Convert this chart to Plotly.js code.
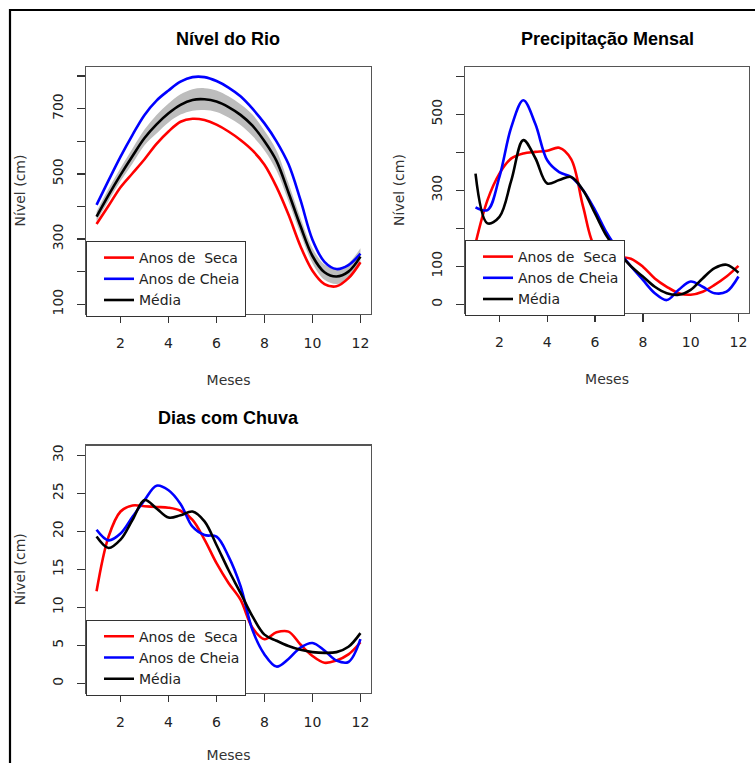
<!DOCTYPE html>
<html><head><meta charset="utf-8">
<script src="https://cdn.plot.ly/plotly-3.0.1.min.js"></script>
<style>html,body{margin:0;padding:0;background:#fff}#chart{width:755px;height:763px}</style>
</head><body><div id="chart"></div><script>
// Months (half-month sampling)
const months = [1,1.5,2,2.5,3,3.5,4,4.5,5,5.5,6,6.5,7,7.5,8,8.5,9,9.5,10,10.5,11,11.5,12];

// Panel 1: Nível do Rio
const rioSeca  = [346,402,459,502,545,592,630,660,669,665,651,630,604,572,528,460,375,278,203,162,155,180,229];
const rioCheia = [405,480,553,620,681,725,756,783,797,797,785,765,738,700,655,600,530,420,298,230,208,220,255];
const rioMedia = [369,435,497,555,610,652,686,712,727,729,722,705,681,648,600,540,443,340,248,198,185,200,246];
const rioBandHi = [384,454,518,578,636,681,716,744,760,763,756,738,714,682,632,572,472,365,272,222,208,226,272];
const rioBandLo = [355,417,478,532,588,624,658,682,694,696,690,673,650,616,572,510,416,316,226,175,162,176,222];

// Panel 2: Precipitação Mensal
const preSeca  = [160,274,344,384,397,401,404,412,382,257,150,130,125,120,99,68,46,29,25,33,51,73,101];
const preCheia = [255,248,335,467,537,475,379,348,335,300,248,187,140,100,64,29,11,38,60,46,29,33,73];
const preMedia = [344,213,230,327,432,385,318,327,335,300,239,178,135,100,73,46,29,25,38,68,95,104,83];

// Panel 3: Dias com Chuva
const diasSeca  = [12.1,19.3,22.6,23.4,23.3,23.2,23.1,22.7,21.5,18.9,15.8,13.2,11.0,7.3,5.8,6.7,6.8,5.1,3.6,2.7,3.0,3.8,5.4];
const diasCheia = [20.2,18.8,19.7,21.9,24.1,26.0,25.4,23.6,20.6,19.5,19.3,16.7,12.8,7.0,3.8,2.2,3.2,4.7,5.3,4.3,3.0,2.8,5.8];
const diasMedia = [19.3,17.8,18.9,21.5,24.1,23.0,21.8,22.1,22.6,21.3,18.2,14.9,11.9,8.8,6.4,5.6,4.9,4.4,4.1,4.0,4.1,4.8,6.6];

const seriesNames = ['Anos de\u00a0 Seca','Anos de Cheia','Média'];
const seriesColors = ['#ff0000','#0000ff','#000000'];

const xTicks = [2,4,6,8,10,12];
const rioTicks = [100,200,300,400,500,600,700,800];
const rioTickText = ['100','','300','','500','','700',''];
const preTicks = [0,100,200,300,400,500,600];
const preTickText = ['0','100','','300','','500',''];
const diasTicks = [0,5,10,15,20,25,30];

const W = 755, H = 763;
const px = v => v / W, py = v => 1 - v / H;

function lineTrace(x, y, name, color, xa, ya, leg) {
  return {x, y, name, type:'scatter', mode:'lines', xaxis:xa, yaxis:ya, legend:leg,
          line:{color, width:2.6, shape:'spline', smoothing:1}, hoverinfo:'skip'};
}

const traces = [
  {x:months, y:rioBandLo, type:'scatter', mode:'lines', line:{width:0, shape:'spline'}, showlegend:false, xaxis:'x', yaxis:'y', hoverinfo:'skip'},
  {x:months, y:rioBandHi, type:'scatter', mode:'lines', line:{width:0, shape:'spline'}, fill:'tonexty', fillcolor:'#bdbdbd', showlegend:false, xaxis:'x', yaxis:'y', hoverinfo:'skip'},
  lineTrace(months, rioSeca,  seriesNames[0], seriesColors[0], 'x','y','legend'),
  lineTrace(months, rioCheia, seriesNames[1], seriesColors[1], 'x','y','legend'),
  lineTrace(months, rioMedia, seriesNames[2], seriesColors[2], 'x','y','legend'),
  lineTrace(months, preSeca,  seriesNames[0], seriesColors[0], 'x2','y2','legend2'),
  lineTrace(months, preCheia, seriesNames[1], seriesColors[1], 'x2','y2','legend2'),
  lineTrace(months, preMedia, seriesNames[2], seriesColors[2], 'x2','y2','legend2'),
  lineTrace(months, diasSeca,  seriesNames[0], seriesColors[0], 'x3','y3','legend3'),
  lineTrace(months, diasCheia, seriesNames[1], seriesColors[1], 'x3','y3','legend3'),
  lineTrace(months, diasMedia, seriesNames[2], seriesColors[2], 'x3','y3','legend3')
];

const tickFont = {family:'DejaVu Sans, Liberation Sans, sans-serif', size:14, color:'#222'};
const axTitleFont = {family:'DejaVu Sans, Liberation Sans, sans-serif', size:14, color:'#333'};

function xAxis(domain, anchor) {
  return {domain, anchor, range:[0.56,12.44], tickvals:xTicks, ticktext:xTicks.map(String),
    ticks:'outside', ticklen:8, tickwidth:1.3, tickcolor:'#333', showline:true, mirror:true,
    linecolor:'#555', linewidth:1.4, showgrid:false, zeroline:false, tickfont:tickFont,
    ticklabelstandoff:8, title:{text:'Meses', font:axTitleFont, standoff:25}};
}
function yAxis(domain, anchor, range, vals, text) {
  return {domain, anchor, range, tickvals:vals, ticktext:text, tickangle:-90,
    ticks:'outside', ticklen:8, tickwidth:1.3, tickcolor:'#333', showline:true, mirror:true,
    linecolor:'#555', linewidth:1.4, showgrid:false, zeroline:false, tickfont:tickFont,
    ticklabelstandoff:8, title:{text:'Nível (cm)', font:axTitleFont, standoff:21}};
}
function legendBox(x, y) {
  return {x, y, xanchor:'left', yanchor:'top', bgcolor:'#ffffff', bordercolor:'#333', borderwidth:1,
    font:{family:'DejaVu Sans, Liberation Sans, sans-serif', size:14, color:'#222'},
    traceorder:'normal', tracegroupgap:0, itemwidth:30, indentation:12,
    itemclick:false, itemdoubleclick:false};
}
const titleFont = {family:'Liberation Sans, Arial, sans-serif', size:18, color:'#000', weight:'bold'};

const layout = {
  width:W, height:H, margin:{l:0,r:0,t:0,b:0}, paper_bgcolor:'#fff', plot_bgcolor:'#fff',
  showlegend:true,
  xaxis: xAxis([px(86), px(371)], 'y'),
  yaxis: yAxis([py(314), py(67)], 'x', [70,828], rioTicks, rioTickText),
  xaxis2: xAxis([px(465), px(749)], 'y2'),
  yaxis2: yAxis([py(313), py(67)], 'x2', [-23,624.5], preTicks, preTickText),
  xaxis3: xAxis([px(86), px(371)], 'y3'),
  yaxis3: yAxis([py(692.7), py(445.7)], 'x3', [-1.24,31.26], diasTicks, diasTicks.map(String)),
  legend: legendBox(px(86), py(241)),
  legend2: legendBox(px(465), py(240)),
  legend3: legendBox(px(86), py(619.7)),
  annotations: [
    {text:'<b>Nível do Rio</b>', xref:'paper', yref:'paper', x:px(228), y:py(39), showarrow:false, font:titleFont, xanchor:'center', yanchor:'middle'},
    {text:'<b>Precipitação Mensal</b>', xref:'paper', yref:'paper', x:px(607), y:py(39), showarrow:false, font:titleFont, xanchor:'center', yanchor:'middle'},
    {text:'<b>Dias com Chuva</b>', xref:'paper', yref:'paper', x:px(228), y:py(418), showarrow:false, font:titleFont, xanchor:'center', yanchor:'middle'}
  ],
  shapes: [
    {type:'line', xref:'paper', yref:'paper', x0:px(9), x1:1, y0:py(10), y1:py(10), line:{color:'#000', width:2.2}},
    {type:'line', xref:'paper', yref:'paper', x0:px(10), x1:px(10), y0:py(9), y1:0, line:{color:'#000', width:2.2}}
  ]
};

Plotly.newPlot('chart', traces, layout, {displayModeBar:false, staticPlot:true});
</script></body></html>
